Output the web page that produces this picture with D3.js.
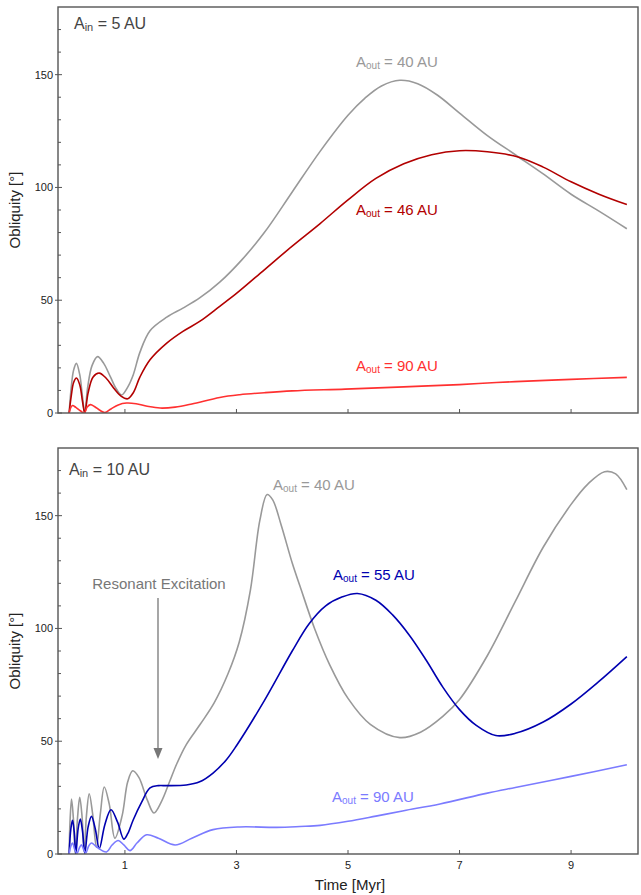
<!DOCTYPE html>
<html>
<head>
<meta charset="utf-8">
<script src="https://cdn.jsdelivr.net/npm/d3@7"></script>
<style>
  body { margin: 0; background: #fff; }
  svg { display: block; font-family: "Liberation Sans", Arial, Helvetica, sans-serif; }
</style>
</head>
<body>
<div id="chart"></div>
<script>
// [time (Myr), obliquity (deg)]
// top panel, A_in = 5 AU
const top40 = [[0,0],[0.04,12],[0.08,19],[0.13,22],[0.19,17],[0.24,7],[0.28,0],[0.33,11],[0.41,21],[0.51,25],[0.62,22],[0.74,16],[0.85,10.5],[0.94,8],[1.05,11.5],[1.15,17],[1.27,27],[1.45,36.5],[1.75,42.5],[2.04,46.5],[2.34,51],[2.7,58],[3.1,68],[3.5,80],[4.0,98],[4.5,116],[5.0,132],[5.3,139.5],[5.6,145],[5.93,147.5],[6.25,146],[6.6,141],[7.0,133],[7.5,123],[8.0,114.5],[8.5,106],[9.0,97],[9.5,89.5],[10,81.7]];
const top46 = [[0,0],[0.04,8],[0.08,13.5],[0.13,15.5],[0.19,12.5],[0.24,5],[0.28,0],[0.34,9],[0.43,16],[0.54,17.7],[0.66,15.5],[0.8,11],[0.93,7.5],[1.05,6.3],[1.15,9],[1.27,16],[1.45,23.6],[1.75,31],[2.04,36.2],[2.34,40.6],[2.7,47.3],[3.0,53],[3.5,63.5],[4.0,74],[4.5,84],[5.0,94.5],[5.5,104],[6.0,110.5],[6.5,114.5],[7.0,116.3],[7.5,115.8],[8.05,113.5],[8.5,109],[9.0,102.5],[9.5,97],[10,92.4]];
const top90 = [[0,0],[0.03,2.5],[0.06,3.3],[0.12,2.5],[0.2,1],[0.27,0],[0.32,2.5],[0.38,3.7],[0.46,2.8],[0.55,1.2],[0.64,0.2],[0.75,1.8],[0.88,3.6],[1.03,4.4],[1.2,4.1],[1.4,3],[1.63,2.2],[1.9,2.6],[2.2,4],[2.7,6.9],[3.06,8.1],[3.5,9],[4.0,9.8],[4.95,10.6],[6.0,11.6],[7.0,12.6],[7.5,13.3],[8.0,13.9],[9.0,14.9],[10,15.8]];

// bottom panel, A_in = 10 AU
const bot40 = [[0,0],[0.015,14],[0.043,24.4],[0.075,16],[0.11,0],[0.15,16],[0.19,25.1],[0.23,17],[0.27,1],[0.31,17],[0.36,26.7],[0.42,18],[0.49,3],[0.56,18],[0.63,29.7],[0.72,22],[0.82,7],[0.95,17],[1.05,32],[1.14,36.9],[1.25,34],[1.4,24],[1.52,18.2],[1.65,23],[1.8,32],[1.93,40],[2.1,48.5],[2.35,57.5],[2.6,67],[2.85,80],[3.05,94],[3.25,117],[3.42,148],[3.55,159.4],[3.65,157],[3.8,146],[4.0,129],[4.14,118.7],[4.4,100],[4.67,84],[5.0,69],[5.4,57.5],[5.93,51.6],[6.3,54],[6.7,61],[7.0,68.5],[7.5,88],[8.0,112],[8.5,136],[9.0,155],[9.3,164],[9.6,169.5],[9.8,168.5],[10,161.5]];
const bot55 = [[0,0],[0.03,11],[0.06,14.9],[0.09,10],[0.12,0],[0.16,11],[0.2,15.5],[0.24,10],[0.28,0.3],[0.34,12],[0.4,16.7],[0.47,11],[0.54,2.4],[0.64,13],[0.75,19.6],[0.87,14],[0.98,6.6],[1.05,9],[1.15,15.2],[1.3,23],[1.45,29.3],[1.6,30.3],[1.75,30.3],[2.1,30.6],[2.34,32],[2.58,35.9],[2.82,41.8],[3.0,48],[3.5,68],[4.0,90],[4.3,102],[4.6,110],[4.9,114],[5.17,115.5],[5.5,112.5],[5.8,106],[6.1,97],[6.4,86],[6.7,74],[7.0,64],[7.3,57],[7.65,52.5],[8.0,53.5],[8.5,58.5],[9.0,66.5],[9.5,76.5],[10,87.5]];
const bot90 = [[0,0],[0.03,3.5],[0.06,4.9],[0.1,2],[0.14,0.3],[0.18,2.5],[0.22,4.1],[0.26,2],[0.3,0.5],[0.35,3.5],[0.4,4.9],[0.5,3],[0.67,0.9],[0.77,4],[0.88,6],[0.98,4],[1.09,1.5],[1.22,5],[1.39,8.5],[1.6,7],[1.9,4],[2.2,7],[2.58,10.8],[3.06,12],[3.72,11.8],[4.14,12.2],[4.5,12.7],[5.0,14.5],[5.5,16.8],[6.0,19.2],[6.65,22.2],[7.5,27],[8.0,29.5],[9.0,34.4],[10,39.6]];

const xTicks = [1, 3, 5, 7, 9];
const yMajor = [0, 50, 100, 150];
const yMinor = [10, 20, 30, 40, 60, 70, 80, 90, 110, 120, 130, 140, 160, 170];

const width = 641;
const height = 895;

let svg = d3.select('#chart').append('svg')
    .attr('width', width)
    .attr('height', height);

let x = d3.scaleLinear().domain([-0.2, 10.2]).range([58, 638]);

let line = d3.line()
    .x(d => x(d[0]))
    .y(d => 0)
    .curve(d3.curveCatmullRom.alpha(0.5));

const panels = [
    {
        id: 'top', yRange: [413, 7], inner: '5 AU', innerX: 74, innerY: 29,
        series: [
            {data: top40, color: '#999999', label: '40 AU', lx: 356, ly: 67},
            {data: top46, color: '#b20000', label: '46 AU', lx: 356, ly: 215},
            {data: top90, color: '#ff3030', label: '90 AU', lx: 356, ly: 371}
        ]
    },
    {
        id: 'bot', yRange: [854, 448], inner: '10 AU', innerX: 69, innerY: 475, xLabels: true,
        series: [
            {data: bot40, color: '#999999', label: '40 AU', lx: 273, ly: 490},
            {data: bot55, color: '#0000b0', label: '55 AU', lx: 333, ly: 580},
            {data: bot90, color: '#7b7bff', label: '90 AU', lx: 332, ly: 802}
        ]
    }
];

panels.forEach(p => {
    let y = d3.scaleLinear().domain([0, 180]).range(p.yRange);
    let g = svg.append('g');
    let top = p.yRange[1], bottom = p.yRange[0];

    g.append('clipPath').attr('id', 'clip-' + p.id)
        .append('rect')
        .attr('x', x.range()[0]).attr('y', top)
        .attr('width', x.range()[1] - x.range()[0]).attr('height', bottom - top);

    let lineY = line.y(d => y(d[1]));
    p.series.forEach(s => {
        g.append('path')
            .attr('clip-path', `url(#clip-${p.id})`)
            .attr('d', lineY(s.data))
            .attr('fill', 'none')
            .attr('stroke', s.color)
            .attr('stroke-width', 1.6);

        let t = g.append('text')
            .attr('x', s.lx).attr('y', s.ly)
            .attr('fill', s.color)
            .attr('font-size', 15);
        t.append('tspan').text('A');
        t.append('tspan').attr('font-size', 10).attr('dy', 1.5).text('out');
        t.append('tspan').attr('dy', -1.5).text(' = ' + s.label);
    });

    // frame
    g.append('rect')
        .attr('x', x.range()[0]).attr('y', top)
        .attr('width', x.range()[1] - x.range()[0]).attr('height', bottom - top)
        .attr('fill', 'none')
        .attr('stroke', '#555')
        .attr('stroke-width', 1.4);

    // y ticks
    yMajor.forEach(v => {
        g.append('line')
            .attr('x1', x.range()[0] - 3).attr('x2', x.range()[0] + 4)
            .attr('y1', y(v)).attr('y2', y(v))
            .attr('stroke', '#555');
        g.append('text')
            .attr('x', 53).attr('y', y(v) + 4)
            .attr('text-anchor', 'end')
            .attr('font-size', 11)
            .attr('fill', '#222')
            .text(v);
    });
    yMinor.forEach(v => {
        g.append('line')
            .attr('x1', x.range()[0]).attr('x2', x.range()[0] + 3)
            .attr('y1', y(v)).attr('y2', y(v))
            .attr('stroke', '#555');
    });

    // x ticks
    xTicks.forEach(v => {
        g.append('line')
            .attr('x1', x(v)).attr('x2', x(v))
            .attr('y1', bottom).attr('y2', bottom - 4)
            .attr('stroke', '#555');
        if (p.xLabels) {
            g.append('text')
                .attr('x', x(v)).attr('y', bottom + 15)
                .attr('text-anchor', 'middle')
                .attr('font-size', 11)
                .attr('fill', '#222')
                .text(v);
        }
    });

    let inner = g.append('text')
        .attr('x', p.innerX).attr('y', p.innerY)
        .attr('fill', '#444')
        .attr('font-size', 16);
    inner.append('tspan').text('A');
    inner.append('tspan').attr('font-size', 11).attr('dy', 1.5).text('in');
    inner.append('tspan').attr('dy', -1.5).text(' = ' + p.inner);

    g.append('text')
        .attr('transform', `translate(20, ${(top + bottom) / 2}) rotate(-90)`)
        .attr('text-anchor', 'middle')
        .attr('font-size', 15)
        .attr('fill', '#222')
        .text('Obliquity [°]');
});

svg.append('text')
    .attr('x', 350).attr('y', 890)
    .attr('text-anchor', 'middle')
    .attr('font-size', 15)
    .attr('fill', '#222')
    .text('Time [Myr]');

// annotation in the lower panel
svg.append('text')
    .attr('x', 159).attr('y', 589)
    .attr('text-anchor', 'middle')
    .attr('font-size', 15)
    .attr('fill', '#777')
    .text('Resonant Excitation');
svg.append('line')
    .attr('x1', 158).attr('x2', 158)
    .attr('y1', 598).attr('y2', 750)
    .attr('stroke', '#777')
    .attr('stroke-width', 1.3);
svg.append('path')
    .attr('d', 'M153.5,748 L158,759 L162.5,748 Z')
    .attr('fill', '#777');
</script>
</body>
</html>
